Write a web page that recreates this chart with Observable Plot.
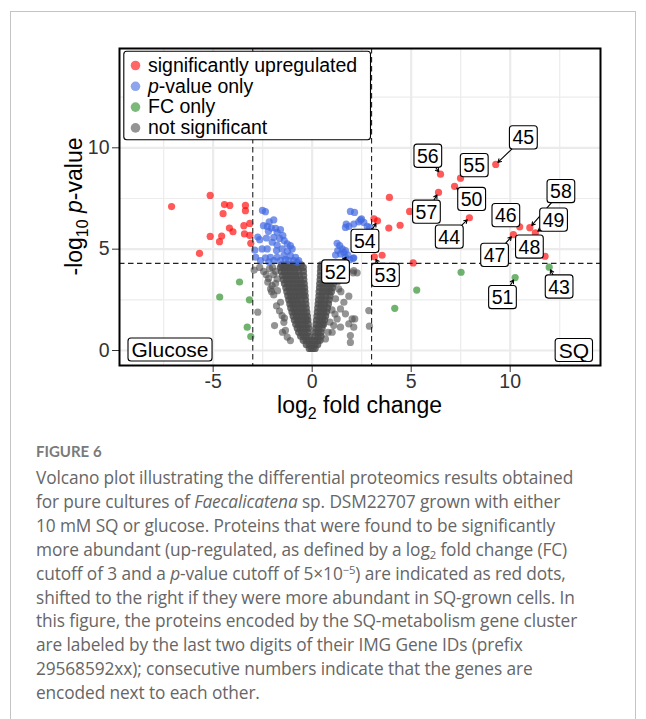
<!DOCTYPE html>
<html><head><meta charset="utf-8">
<script src="https://cdn.jsdelivr.net/npm/d3@7"></script>
<script src="https://cdn.jsdelivr.net/npm/@observablehq/plot@0.6"></script>
<style>
html,body{margin:0;padding:0;background:#fff}
body{width:646px;height:719px;position:relative;overflow:hidden;font-family:"Liberation Sans",Arial,sans-serif}
#frame{position:absolute;left:10px;top:11px;width:626px;height:730px;border:1.5px solid #c4c4c4;border-bottom:none;box-sizing:border-box}
#chart{position:absolute;left:0;top:0}
#cap{position:absolute;left:36px;top:441px;white-space:nowrap;color:#666}
#cap .fig{font-family:Lato,"Noto Sans",sans-serif;font-size:15px;line-height:20px;font-weight:700;color:#7a7a7a}
#cap .txt{font-family:"Open Sans","Noto Sans",sans-serif;font-size:17.3px;line-height:23.9px;margin-top:5px;letter-spacing:-0.1px}
#cap sub{font-size:0.65em;line-height:0;vertical-align:-0.25em}
#cap sup{font-size:0.65em;line-height:0;vertical-align:0.55em}
</style>
</head><body>
<div id="frame"></div>
<div id="chart"></div>
<div id="cap">
<div class="fig">FIGURE 6</div>
<div class="txt">Volcano plot illustrating the differential proteomics results obtained<br>for pure cultures of <i>Faecalicatena</i> sp. DSM22707 grown with either<br>10 mM SQ or glucose. Proteins that were found to be significantly<br>more abundant (up-regulated, as defined by a log<sub>2</sub> fold change (FC)<br>cutoff of 3 and a <i>p</i>-value cutoff of 5×10<sup>−5</sup>) are indicated as red dots,<br>shifted to the right if they were more abundant in SQ-grown cells. In<br>this figure, the proteins encoded by the SQ-metabolism gene cluster<br>are labeled by the last two digits of their IMG Gene IDs (prefix<br>29568592xx); consecutive numbers indicate that the genes are<br>encoded next to each other.</div>
</div>
<script>
// ---------------- data ----------------
const xTicks = [-5, 0, 5, 10];
const yTicks = [0, 5, 10];
const xMinor = [-7.5, -2.5, 2.5, 7.5, 12.5];
const yMinor = [2.5, 7.5, 12.5];
const fcCutoff = [-3, 3];
const pCutoff = [4.3];

const legendLabels = ["significantly upregulated", "p-value only", "FC only", "not significant"];
const legendColors = ["#ff0000", "royalblue", "forestgreen", "#4d4d4d"];

// significantly upregulated (red), unlabeled
const upPoints = [
  [-7.1,7.1],[-5.15,7.65],[-4.43,7.2],[-4.16,7.16],[-4.5,6.75],[-3.37,7.16],[-3.37,6.9],[-3.15,6.27],
  [-3.45,6.16],[-4.18,6.04],[-4.0,5.86],[-4.57,5.65],[-5.15,5.63],[-4.68,5.37],[-3.42,5.75],[-3.15,5.68],
  [-3.1,5.29],[-5.69,4.79],
  [3.9,7.55],[4.92,6.86],[3.12,6.5],[3.87,6.04],[4.44,6.18],[3.53,4.7],[5.1,4.32]
];

// p-value only (blue)
const pOnlyPoints = [
  [-2.51,6.91],[-2.36,6.85],[-1.94,6.44],[-2.17,6.35],[-2.46,6.16],[-2.27,6.12],[-2.06,6.04],[-1.85,6.03],
  [-1.6,5.96],[-1.77,5.83],[-2.21,5.88],[-2.65,5.47],[-2.31,5.55],[-1.94,5.58],[-1.64,5.53],[-1.48,5.67],
  [-1.41,5.42],[-2.02,5.34],[-1.77,5.2],[-2.53,5.01],[-2.27,5.01],[-1.26,5.26],[-1.1,5.17],[-1.01,5.01],
  [-1.52,5.01],[-1.8,4.93],[-2.36,4.57],[-2.11,4.6],[-1.77,4.6],[-1.43,4.68],[-1.1,4.68],[-0.84,4.6],
  [-2.61,4.43],[-1.18,4.43],[-0.93,4.43],[-0.68,4.43],[-1.6,4.43],[-1.94,4.43],[-2.19,4.38],
  [-2.9,4.95],[-2.85,4.6],[-2.75,5.6],[-1.35,4.5],[-0.75,4.35],[-1.25,4.9],
  [1.93,6.86],[2.14,6.81],[2.49,6.49],[2.35,6.35],[2.1,6.24],[1.85,6.12],[1.68,6.07],[2.61,6.32],
  [2.78,6.12],[1.26,5.29],[1.39,5.17],[1.52,5.01],[1.29,4.93],[1.6,4.84],[1.43,4.76],[1.68,4.93],
  [2.07,4.55],[1.18,4.71],[1.72,6.24],[2.44,6.44],[2.9,6.07],[1.68,4.6],[1.9,4.48],[2.1,4.57]
];

// FC only (green), unlabeled
const fcOnlyPoints = [
  [-3.67,3.38],[-4.67,2.64],[-3.17,2.5],[-3.28,1.15],[-3.1,0.69],
  [7.52,3.86],[5.28,2.98],[4.17,2.08]
];

// not significant (grey): dense volcano rows [y, x values...]
const nsRows = [
  [0.1, -0.15,-0.05,0.05,0.15],
  [0.3, -0.3,-0.15,0,0.15,0.28],
  [0.5, -0.45,-0.3,-0.15,0,0.15,0.3,0.4],
  [0.7, -0.58,-0.45,-0.3,-0.15,0.15,0.3,0.45],
  [0.9, -0.68,-0.52,-0.37,-0.2,0.15,0.3,0.45],
  [1.1, -0.75,-0.6,-0.45,-0.3,-0.18,0.18,0.33,0.5],
  [1.3, -0.83,-0.68,-0.52,-0.36,-0.2,0.2,0.36,0.52,0.58],
  [1.5, -0.9,-0.75,-0.6,-0.45,-0.3,-0.22,0.22,0.38,0.52,0.63],
  [1.7, -0.96,-0.8,-0.65,-0.5,-0.35,-0.24,0.24,0.4,0.55,0.68],
  [1.9, -1.02,-0.87,-0.72,-0.57,-0.42,-0.27,0.26,0.42,0.58,0.72],
  [2.1, -1.08,-0.93,-0.78,-0.62,-0.46,-0.3,0.28,0.44,0.6,0.77],
  [2.3, -1.13,-0.98,-0.83,-0.67,-0.5,-0.32,0.3,0.46,0.63,0.82],
  [2.5, -1.18,-1.03,-0.88,-0.72,-0.55,-0.34,0.32,0.48,0.66,0.86],
  [2.7, -1.23,-1.08,-0.92,-0.76,-0.6,-0.44,-0.35,0.34,0.5,0.68,0.9],
  [2.9, -1.28,-1.12,-0.96,-0.8,-0.64,-0.48,-0.37,0.35,0.52,0.7,0.85,0.97],
  [3.1, -1.33,-1.17,-1.0,-0.84,-0.68,-0.52,-0.38,0.37,0.54,0.72,0.88,1.02],
  [3.3, -1.4,-1.23,-1.06,-0.9,-0.73,-0.56,-0.4,0.38,0.56,0.74,0.92,1.08],
  [3.5, -1.46,-1.29,-1.12,-0.95,-0.78,-0.6,-0.42,0.4,0.58,0.76,0.95,1.12],
  [3.7, -1.5,-1.33,-1.16,-0.99,-0.82,-0.64,-0.43,0.41,0.6,0.79,0.98,1.17],
  [3.9, -1.56,-1.39,-1.22,-1.05,-0.87,-0.68,-0.44,0.42,0.62,0.82,1.02,1.2],
  [4.1, -1.6,-1.43,-1.26,-1.09,-0.91,-0.72,-0.45,0.43,0.64,0.85,1.05,1.23],
  [4.22, -1.55,-1.35,-1.15,-0.95,-0.75,-0.55,0.45,0.7,0.95,1.2]
];
// not significant (grey): scattered points
const nsScatter = [
  [-2.93,3.97],[-2.65,4.1],[-2.32,3.74],[-2.24,3.37],[-2.02,3.2],[-2.1,3.04],[-1.77,3.53],[-1.94,2.74],
  [-2.75,1.89],[-1.9,1.23],[-1.6,2.38],[-1.52,1.72],[-1.35,0.99],[-1.1,0.49],[-1.26,0.66],[-1.43,1.39],
  [-1.85,3.9],[-2.0,4.1],[-2.45,3.9],[-2.15,4.05],[-1.95,3.75],[-2.2,3.55],[-1.85,3.3],[-2.05,2.9],
  [-1.75,2.95],[-1.8,2.2],[-1.65,1.95],[-1.4,1.6],[-1.5,0.9],
  [2.1,3.94],[2.07,3.83],[2.27,3.83],[1.52,3.56],[1.85,2.68],[1.6,2.38],[1.43,2.05],[1.68,1.81],
  [2.02,1.56],[1.85,1.31],[2.1,1.15],[1.93,0.74],[1.26,1.56],[1.09,1.23],[1.01,0.9],[1.43,1.15],
  [1.34,3.04],[1.18,2.55],[2.86,1.97],[2.89,1.2],[2.15,1.56],[1.93,0.4],[0.67,0.57],[1.77,3.94],
  [1.6,4.1],[1.45,3.8],[1.3,3.4],[1.45,2.9],[1.0,2.0],[1.15,1.8],[0.9,1.4],[0.8,0.9]
];

// labeled SQ gene-cluster proteins: id, point x, point y, label x, label y, category, draw segment
const geneIds   = ["45","56","55","50","57","44","46","58","49","47","48","43","51","54","52","53"];
const genePtX   = [9.27,6.48,7.49,7.19,6.38,7.94,10.48,10.99,11.27,10.16,11.76,11.97,10.25,3.30,1.80,3.14];
const genePtY   = [9.18,8.70,8.50,8.10,7.80,6.55,6.10,6.06,5.80,5.72,4.65,4.11,3.60,6.40,4.72,4.62];
const geneLabX  = [10.66,5.84,8.18,8.05,5.77,6.92,9.78,12.56,12.19,9.21,10.97,12.47,9.61,2.66,1.18,3.70];
const geneLabY  = [10.48,9.57,9.11,7.44,6.81,5.58,6.64,7.83,6.42,4.68,5.09,3.12,2.60,5.37,3.86,3.69];
const geneCat   = [0,0,0,0,0,0,0,0,0,0,0,2,2,0,1,0];
const geneSeg   = [1,1,0,1,1,1,0,1,1,1,0,1,1,1,1,1];

const panelLabels = ["Glucose", "SQ"];

// ---------------- build ----------------
const toPts = a => a.map(([x, y]) => ({x, y}));
const nsDense = nsRows.flatMap(([y, ...xs]) => xs.map(x => ({x, y})));
const genes = geneIds.map((id, i) => ({id, px: genePtX[i], py: genePtY[i], lx: geneLabX[i], ly: geneLabY[i], cat: geneCat[i], seg: geneSeg[i]}));
const dotR = 3.6, alpha = 0.65;

const legendMarks = legendLabels.flatMap((lab, i) => [
  Plot.dot([lab], {frameAnchor: "top-left", dx: 16, dy: 17 + i * 20.8, r: 4.8, fill: legendColors[i], fillOpacity: 0.6}),
  Plot.text([lab], {frameAnchor: "top-left", dx: 28.5, dy: 17 + i * 20.8, text: d => d, textAnchor: "start", lineAnchor: "middle", fontSize: 19.5, fill: "black"})
]);

const chart = Plot.plot({
  width: 646, height: 420,
  marginTop: 48, marginBottom: 55, marginLeft: 119, marginRight: 46,
  style: {fontFamily: "'Liberation Sans', Arial, sans-serif", fontSize: "19.5px", color: "#333", background: "transparent", overflow: "visible"},
  x: {domain: [-9.73, 14.56], ticks: xTicks, tickSize: 7, tickPadding: 2, label: null, tickFormat: d => (d < 0 ? "-" + Math.abs(d) : String(d))},
  y: {domain: [-0.74, 14.9], ticks: yTicks, tickSize: 7, tickPadding: 3, label: null},
  marks: [
    Plot.ruleX(xMinor, {stroke: "#ececec", strokeWidth: 1.2}),
    Plot.ruleY(yMinor, {stroke: "#ececec", strokeWidth: 1.2}),
    Plot.ruleX(xTicks, {stroke: "#ebebeb", strokeWidth: 2.2}),
    Plot.ruleY(yTicks, {stroke: "#ebebeb", strokeWidth: 2.2}),
    Plot.dot(nsDense, {x: "x", y: "y", r: dotR, fill: legendColors[3], fillOpacity: 0.8}),
    Plot.dot(toPts(nsScatter), {x: "x", y: "y", r: dotR, fill: legendColors[3], fillOpacity: 0.6}),
    Plot.dot(toPts(fcOnlyPoints), {x: "x", y: "y", r: dotR, fill: legendColors[2], fillOpacity: alpha}),
    Plot.dot(toPts(pOnlyPoints), {x: "x", y: "y", r: dotR, fill: legendColors[1], fillOpacity: 0.7}),
    Plot.dot(toPts(upPoints), {x: "x", y: "y", r: dotR, fill: legendColors[0], fillOpacity: alpha}),
    Plot.dot(genes, {x: "px", y: "py", r: dotR, fill: d => legendColors[d.cat], fillOpacity: alpha}),
    Plot.ruleX(fcCutoff, {stroke: "#222", strokeWidth: 1.1, strokeDasharray: "5.5,3.5"}),
    Plot.ruleY(pCutoff, {stroke: "#222", strokeWidth: 1.1, strokeDasharray: "5.5,3.5"}),
    Plot.arrow(genes.filter(d => d.seg), {x1: "lx", y1: "ly", x2: "px", y2: "py", stroke: "black", strokeWidth: 1.1, headLength: 5, insetEnd: 3}),
    Plot.text(genes, {x: "lx", y: "ly", text: "id", fontSize: 19.5, fill: "black"}),
    Plot.text([panelLabels[0]], {frameAnchor: "bottom-left", dx: 12, dy: -8.5, text: d => d, textAnchor: "start", lineAnchor: "bottom", fontSize: 21, fill: "black"}),
    Plot.text([panelLabels[1]], {frameAnchor: "bottom-right", dx: -11.5, dy: -8, text: d => d, textAnchor: "end", lineAnchor: "bottom", fontSize: 21, fill: "black"}),
    Plot.frame({stroke: "black", strokeWidth: 2}),
    Plot.frame({fill: "white", stroke: "black", strokeWidth: 1.1, rx: 3, insetLeft: 4.3, insetTop: 2.7, insetRight: 230, insetBottom: 225.7}),
    ...legendMarks
  ]
});

document.getElementById("chart").appendChild(chart);

// label boxes (geom_label style) behind the texts
const boxSpec = new Map([...geneIds.map(id => [id, {px: 3, py: 0.6}]), ["Glucose", {px: 3.5, py: 0}], ["SQ", {px: 3.5, py: 0}]]);
chart.querySelectorAll("text").forEach(t => {
  const s = t.textContent;
  if (!boxSpec.has(s)) return;
  const p = boxSpec.get(s);
  const b = t.getBBox();
  const r = document.createElementNS("http://www.w3.org/2000/svg", "rect");
  r.setAttribute("x", b.x - p.px);
  r.setAttribute("y", b.y - p.py);
  r.setAttribute("width", b.width + 2 * p.px);
  r.setAttribute("height", b.height + 2 * p.py);
  r.setAttribute("rx", 3);
  r.setAttribute("fill", "white");
  r.setAttribute("stroke", "black");
  r.setAttribute("stroke-width", 1.1);
  const tr = t.getAttribute("transform");
  if (tr) r.setAttribute("transform", tr);
  t.parentNode.insertBefore(r, t);
});
// italic p in legend
chart.querySelectorAll("text").forEach(t => {
  if (t.textContent === legendLabels[1]) {
    t.textContent = "";
    const ns_ = "http://www.w3.org/2000/svg";
    const a = document.createElementNS(ns_, "tspan"); a.setAttribute("font-style", "italic"); a.textContent = "p";
    const b = document.createElementNS(ns_, "tspan"); b.textContent = "-value only";
    t.appendChild(a); t.appendChild(b);
  }
});

// axis titles
const svg = d3.select(chart);
const xt = svg.append("text").attr("x", 359.5).attr("y", 413).attr("text-anchor", "middle")
  .attr("font-size", 23).attr("fill", "black");
xt.append("tspan").text("log");
xt.append("tspan").attr("font-size", 16).attr("dy", 6).text("2");
xt.append("tspan").attr("dy", -6).text(" fold change");
const yt = svg.append("text").attr("transform", "translate(82,206.5) rotate(-90)").attr("text-anchor", "middle")
  .attr("font-size", 23).attr("fill", "black");
yt.append("tspan").text("-log");
yt.append("tspan").attr("font-size", 16).attr("dy", 6).text("10");
yt.append("tspan").attr("dy", -6).text(" ");
yt.append("tspan").attr("font-style", "italic").text("p");
yt.append("tspan").text("-value");
</script>
</body></html>
